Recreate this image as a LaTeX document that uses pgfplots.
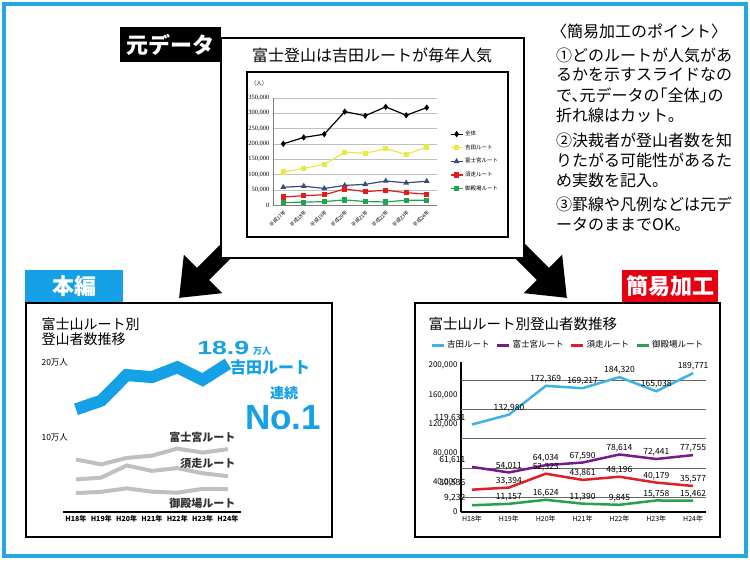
\documentclass[border=0pt]{standalone}
\usepackage{fontspec}
\setmainfont{Noto Sans CJK JP}
\newfontfamily\lib{Liberation Sans}
\newfontfamily\libserif{Liberation Serif}
\usepackage{pgfplots}
\usepackage{pgfplotstable}
\pgfplotsset{compat=1.18}
\usetikzlibrary{arrows.meta}
\pgfplotsset{/pgf/number format/.cd, fixed, 1000 sep={,}, assume math mode=true}
\newcommand{\fs}[1]{\fontsize{#1}{#1}\selectfont}

\definecolor{frame}{RGB}{38,167,224}
\definecolor{hb}{RGB}{22,160,230}
\definecolor{yoshida}{RGB}{64,178,228}
\definecolor{fujinomiya}{RGB}{120,26,140}
\definecolor{subashiri}{RGB}{226,30,40}
\definecolor{gotemba}{RGB}{40,160,80}
\definecolor{labelred}{RGB}{230,0,18}
\definecolor{oyellow}{RGB}{232,232,70}
\definecolor{onavy}{RGB}{55,75,125}
\definecolor{ored}{RGB}{225,30,30}
\definecolor{ogreen}{RGB}{30,165,80}
\definecolor{grayline}{RGB}{192,192,192}

% original data, H17..H24
\pgfplotstableread{
yr zen    yos    fuj   sub   got
0  200000 108000 58000 26000 8000
1  221010 119631 61611 30536 9232
2  231542 132980 54011 33394 11157
3  305350 172369 64034 52323 16624
4  292058 169217 67590 43861 11390
5  320975 184320 78614 48196 9845
6  293416 165038 72441 40179 15758
7  318565 189771 77755 35577 15462
}\orig

% routes, H18..H24
\pgfplotstableread{
x yos    fuj   sub   got
0 119631 61611 30536 9232
1 132980 54011 33394 11157
2 172369 64034 52323 16624
3 169217 67590 43861 11390
4 184320 78614 48196 9845
5 165038 72441 40179 15758
6 189771 77755 35577 15462
}\routes

\begin{document}
\begin{tikzpicture}[x=1pt,y=1pt]
\useasboundingbox (0,0) rectangle (750,565);
\fill[white] (0,0) rectangle (750,565);
\draw[frame, line width=3.5] (4,9) rectangle (746,561);

% arrows
\draw[line width=17, -{Triangle[length=34pt,width=52pt]}] (245,333) -- (179,267);
\draw[line width=17, -{Triangle[length=34pt,width=52pt]}] (501,333) -- (567,267);

% ---------- original ----------
\fill[black] (120,503) rectangle (221,538);
\node[text=white, font=\bfseries\fs{22}] at (170,520) {元データ};
\filldraw[fill=white, draw=black, line width=1.5] (221,307) rectangle (524,527);
\node[font=\fs{16}] at (372,510) {富士登山は吉田ルートが毎年人気};
\draw[line width=2.5] (247,328) rectangle (508,493);
\node[font=\fs{5.5}] at (259,482) {（人）};

\begin{axis}[at={(273pt,360pt)}, anchor=south west, scale only axis,
  width=164pt, height=107pt,
  xmin=-0.5, xmax=7.5, ymin=0, ymax=350000,
  xtick={0,...,7},
  xticklabels={平成17年,平成18年,平成19年,平成20年,平成21年,平成22年,平成23年,平成24年},
  ytick={0,50000,...,350000}, scaled y ticks=false,
  ymajorgrids, major grid style={black!25, line width=0.4pt},
  axis lines*=left, axis line style={black!50, line width=0.4pt},
  major tick length=0pt,
  yticklabel style={font=\libserif\fs{6.5}},
  xticklabel style={font=\fs{5}, rotate=45, anchor=north east},
  legend style={at={(1.06,0.73)}, anchor=north west, draw=none, fill=none,
    font=\fs{5.5}, row sep=3.5pt},
  legend cell align=left,
  legend image code/.code={\draw[mark repeat=2, mark phase=2, #1] plot coordinates {(0pt,0pt) (6pt,0pt) (12pt,0pt)};},
]
\addplot[black, line width=1.2pt, mark=diamond*, mark size=2.2pt] table[x=yr,y=zen]{\orig};
\addlegendentry{全体}
\addplot[oyellow, line width=1.2pt, mark=square*, mark size=2pt] table[x=yr,y=yos]{\orig};
\addlegendentry{吉田ルート}
\addplot[onavy, line width=1.2pt, mark=triangle*, mark size=2.2pt] table[x=yr,y=fuj]{\orig};
\addlegendentry{富士宮ルート}
\addplot[ored, line width=1.2pt, mark=square*, mark size=2pt] table[x=yr,y=sub]{\orig};
\addlegendentry{須走ルート}
\addplot[ogreen, line width=1.2pt, mark=square*, mark size=2pt] table[x=yr,y=got]{\orig};
\addlegendentry{御殿場ルート}
\end{axis}

% ---------- 本編 ----------
\fill[hb] (25,262) rectangle (123,295);
\node[text=white, font=\bfseries\fs{22}] at (74,279) {本編};
\filldraw[fill=white, draw=black, line width=1.5] (26,28) rectangle (332,262);
\node[anchor=west, font=\fs{14}] at (38,241) {富士山ルート別};
\node[anchor=west, font=\fs{14}] at (38,226) {登山者数推移};
\node[anchor=west, font=\fs{8.5}] at (38,203) {20万人};
\node[anchor=west, font=\fs{8.5}] at (38,128) {10万人};

\begin{axis}[at={(63.3pt,53pt)}, anchor=south west, scale only axis,
  width=177.3pt, height=162pt,
  xmin=-0.5, xmax=6.5, ymin=-20280, ymax=232440,
  axis x line*=bottom, axis y line=none,
  x axis line style={line width=1.5pt},
  xtick={0,...,6}, xticklabels={H18年,H19年,H20年,H21年,H22年,H23年,H24年},
  ytick=\empty, major tick length=0pt,
  xticklabel style={font=\bfseries\fs{7}},
]
\addplot[grayline, line width=4pt] table[x=x,y=fuj]{\routes};
\addplot[grayline, line width=4pt] table[x=x,y=sub]{\routes};
\addplot[grayline, line width=4pt] table[x=x,y=got]{\routes};
\end{axis}
\begin{axis}[at={(63.3pt,53pt)}, anchor=south west, scale only axis,
  width=177.3pt, height=162pt, hide axis,
  xmin=-0.5, xmax=6.5, ymin=-38500, ymax=210980]
\addplot[hb, line width=12pt] table[x=x,y=yos]{\routes};
\end{axis}

\node[anchor=east, font=\bfseries\fs{11}, text=black!80] at (239,128) {富士宮ルート};
\node[anchor=east, font=\bfseries\fs{11}, text=black!80] at (239,102) {須走ルート};
\node[anchor=east, font=\bfseries\fs{11}, text=black!80] at (239,62) {御殿場ルート};

\node[anchor=base west, inner sep=0pt, text=hb, font=\lib\bfseries\fs{19}, xscale=1.4, transform shape] at (197,210) {18.9};
\node[anchor=base west, inner sep=0pt, text=hb, font=\bfseries\fs{9}] at (253,210) {万人};
\node[text=hb, font=\bfseries\fs{16}] at (270,198) {吉田ルート};
\node[text=hb, font=\bfseries\fs{14}] at (284,172) {連続};
\node[anchor=base, inner sep=0pt, text=hb, font=\lib\bfseries\fs{35}] at (283,135) {No.1};

% ---------- 簡易加工 ----------
\fill[labelred] (622,262) rectangle (718,295);
\node[text=white, font=\bfseries\fs{22}] at (670,279) {簡易加工};
\filldraw[fill=white, draw=black, line width=1.5] (415,28) rectangle (720,262);
\node[anchor=west, font=\fs{14.5}] at (425,241) {富士山ルート別登山者数推移};

\begin{axis}[at={(461pt,53pt)}, anchor=south west, scale only axis,
  width=245pt, height=150pt,
  xmin=-0.3, xmax=6.35, ymin=0, ymax=205000,
  axis lines*=left, axis line style={black, line width=1.2pt},
  xtick={0,...,6}, xticklabels={H18年,H19年,H20年,H21年,H22年,H23年,H24年},
  ytick={0,40000,...,200000}, scaled y ticks=false,
  extra y ticks={20000,60000,100000,140000,180000}, extra y tick labels={,,,,},
  extra y tick style={grid=major, major grid style={black!60, line width=0.8pt}},
  major tick length=0pt,
  yticklabel style={font=\fs{8}},
  xticklabel style={font=\fs{7}},
  every node near coord/.append style={font=\fs{8.5}, inner sep=1.5pt, text=black},
  coordinate style/.condition={x<0.5}{anchor=south east, xshift=-4pt},
  legend columns=4,
  legend style={at={(-0.139,1.113)}, anchor=west, draw=none, fill=none, font=\fs{8.5},
    /tikz/every even column/.append style={column sep=4pt}},
  legend image code/.code={\draw[#1, line width=3pt] (0pt,0pt) -- (12pt,0pt);},
  clip=false,
]
\addplot[yoshida, line width=2.5pt, nodes near coords] table[x=x,y=yos]{\routes};
\addlegendentry{吉田ルート}
\addplot[fujinomiya, line width=2.5pt, nodes near coords] table[x=x,y=fuj]{\routes};
\addlegendentry{富士宮ルート}
\addplot[subashiri, line width=2.5pt, nodes near coords] table[x=x,y=sub]{\routes};
\addlegendentry{須走ルート}
\addplot[gotemba, line width=2.5pt, nodes near coords] table[x=x,y=got]{\routes};
\addlegendentry{御殿場ルート}
\end{axis}

% ---------- notes ----------
\begin{scope}[every node/.style={anchor=west, font=\fs{16}, inner sep=0pt}]
\node at (551,534) {〈簡易加工のポイント〉};
\node at (556,510) {①どのルートが人気があ};
\node at (556,490) {るかを示すスライドなの};
\node at (556,470) {\addfontfeatures{RawFeature=+halt}で、元データの「全体」の};
\node at (556,450) {折れ線はカット。};
\node at (556,425) {②決裁者が登山者数を知};
\node at (556,405) {りたがる可能性があるた};
\node at (556,385) {め実数を記入。};
\node at (556,361) {③罫線や凡例などは元デ};
\node at (556,341) {ータのままでOK。};
\end{scope}
\end{tikzpicture}
\end{document}
